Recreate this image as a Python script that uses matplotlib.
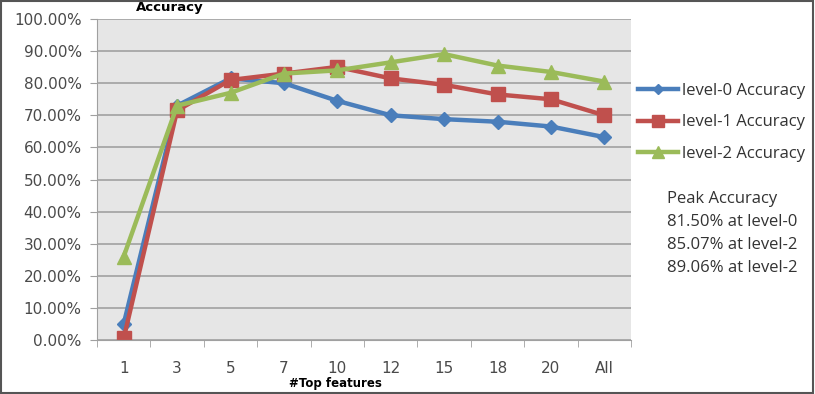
import numpy as np
import matplotlib.pyplot as plt
from matplotlib.patches import Rectangle

# Data
categories = ["1", "3", "5", "7", "10", "12", "15", "18", "20", "All"]
level0 = [5.0, 73.0, 81.5, 80.0, 74.5, 70.0, 68.8, 68.0, 66.5, 63.2]
level1 = [0.5, 71.5, 81.0, 83.0, 85.07, 81.5, 79.5, 76.5, 75.0, 70.0]
level2 = [26.0, 73.0, 77.0, 83.0, 84.0, 86.5, 89.06, 85.5, 83.5, 80.5]
peak_lines = ["Peak Accuracy", "81.50% at level-0", "85.07% at level-2", "89.06% at level-2"]

plt.rcParams['font.family'] = ['Open Sans', 'DejaVu Sans']

fig = plt.figure(figsize=(8.15, 3.94), dpi=100)
ax = fig.add_axes([97/815, 1 - 340/394, 534/815, 321/394])
ax.set_facecolor('#e6e6e6')

x = np.arange(len(categories))
ax.plot(x, level0, color='#4a7ebb', lw=3.2, marker='D', ms=7, label='level-0 Accuracy')
ax.plot(x, level1, color='#c0504d', lw=3.2, marker='s', ms=10, label='level-1 Accuracy')
ax.plot(x, level2, color='#9bbb59', lw=3.2, marker='^', ms=10, label='level-2 Accuracy')

ax.set_xlim(-0.5, len(categories) - 0.5)
ax.set_ylim(0, 100)
ax.set_yticks(np.arange(0, 101, 10))
ax.set_yticklabels([f"{v:.2f}%" for v in np.arange(0, 101, 10)], family=['DejaVu Sans'])
ax.set_xticks(x)
ax.set_xticklabels(categories, family=['DejaVu Sans'])
ax.set_xticks(np.arange(-0.5, len(categories), 1), minor=True)
ax.tick_params(axis='x', which='major', length=0, pad=15, labelsize=11, labelcolor='#4a4a4a')
ax.tick_params(axis='x', which='minor', length=5, color='#a0a0a0')
ax.tick_params(axis='y', length=5, color='#a0a0a0', labelsize=11, labelcolor='#4a4a4a', pad=6)
ax.grid(axis='y', color='#a6a6a6', lw=1.3)
ax.set_axisbelow(True)
for s in ['top', 'right']:
    ax.spines[s].set_visible(False)
for s in ['left', 'bottom']:
    ax.spines[s].set_color('#a0a0a0')

fig.legend(handles=ax.get_lines(), loc='upper left', bbox_to_anchor=(638/815, 1 - 83/394),
           bbox_transform=fig.transFigure, frameon=False, borderpad=0, borderaxespad=0,
           fontsize=12, handlelength=2.4, labelspacing=0.93, handletextpad=0.25,
           markerscale=0.8, labelcolor='#333333')

fig.text(170/815, 1 - 8/394, "Accuracy", fontsize=9.5, fontweight='bold', ha='center', va='center',
         family=['DejaVu Sans'])
fig.text(335/815, 1 - 383/394, "#Top features", fontsize=8.5, fontweight='bold', ha='center', va='center',
         family=['DejaVu Sans'])

for i, line in enumerate(peak_lines):
    fig.text(667/815, 1 - (199 + 23 * i)/394, line, fontsize=12, color='#333333', va='center')

fig.patches.append(Rectangle((0.001, 0.002), 0.997, 0.995, transform=fig.transFigure,
                             fill=False, edgecolor='#555555', lw=1.5))

fig.savefig('out.png', dpi=100)
